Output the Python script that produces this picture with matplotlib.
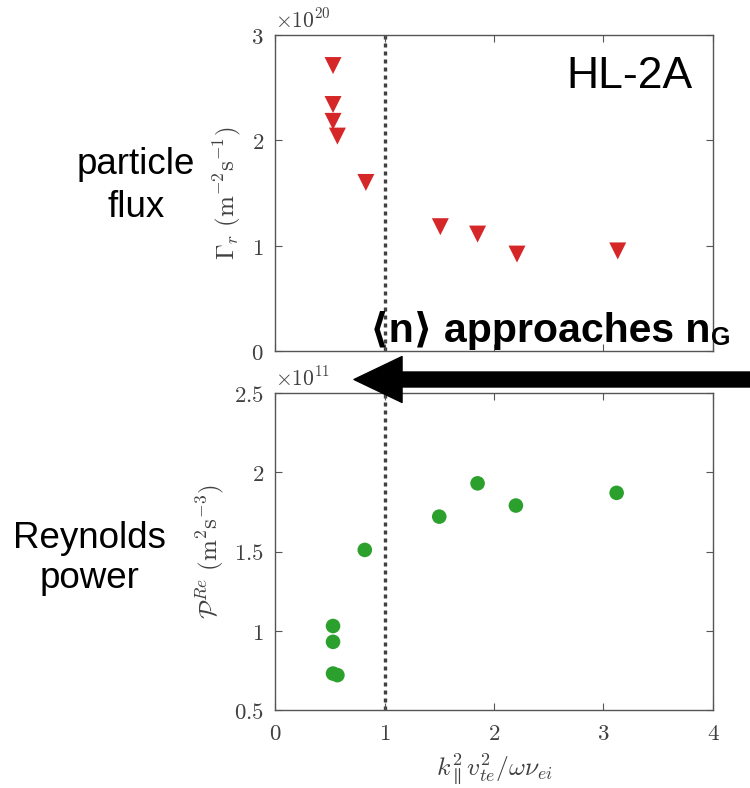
import numpy as np
import matplotlib
matplotlib.use("Agg")
import matplotlib.pyplot as plt
from matplotlib.patches import FancyArrowPatch

plt.rcParams['mathtext.fontset'] = 'cm'

# ---- data ----
x_param = [0.53, 0.53, 0.53, 0.57, 0.83, 1.51, 1.85, 2.21, 3.13]
flux = [2.71, 2.34, 2.18, 2.04, 1.60, 1.18, 1.11, 0.92, 0.95]          # x 1e20
x_rey = [0.53, 0.53, 0.53, 0.57, 0.82, 1.50, 1.85, 2.20, 3.12]
reynolds = [1.03, 0.93, 0.73, 0.72, 1.51, 1.72, 1.93, 1.79, 1.87]      # x 1e11
xticks = [0, 1, 2, 3, 4]
flux_ticks = [0, 1, 2, 3]
rey_ticks = [0.5, 1, 1.5, 2, 2.5]
x_threshold = 1.0

W, H = 750, 788
fig = plt.figure(figsize=(W / 100, H / 100), dpi=100)

def fx(px):
    return px / W

def fy(py):
    return 1 - py / H

ax1 = fig.add_axes([fx(275), fy(351), 438 / W, 316 / H])
ax2 = fig.add_axes([fx(275), fy(710), 438 / W, 317 / H])

gray = '#404040'
for ax in (ax1, ax2):
    for s in ax.spines.values():
        s.set_color('#555555')
        s.set_linewidth(1.0)
    ax.tick_params(direction='in', top=True, right=True, length=5,
                   color='#555555', labelcolor=gray, labelsize=16.5)
    ax.tick_params(axis='y', pad=8)
    ax.tick_params(axis='x', pad=9)
    ax.set_xlim(0, 4)
    ax.set_xticks(xticks)
    ax.axvline(x_threshold, color='#404040', lw=2.4,
               linestyle=(0, (1.2, 1.2)), zorder=1)

ax1.scatter(x_param, flux, marker='v', s=150, color='#d62728',
            edgecolors='none', zorder=3)
ax1.set_ylim(0, 3)
ax1.set_yticks(flux_ticks)
ax1.set_yticklabels([f'${t}$' for t in flux_ticks])
ax1.set_xticklabels([])
ax1.set_ylabel(r'$\Gamma_r\ (\mathrm{m}^{-2}\mathrm{s}^{-1})$', fontsize=18,
               color=gray, labelpad=6)
ax1.text(0.0, 1.012, r'$\times10^{20}$', transform=ax1.transAxes,
         fontsize=15.5, color=gray, ha='left', va='bottom')

ax2.scatter(x_rey, reynolds, marker='o', s=110, color='#2ca02c',
            edgecolors='none', zorder=3)
ax2.set_ylim(0.5, 2.5)
ax2.set_yticks(rey_ticks)
ax2.set_yticklabels([f'${t:g}$' for t in rey_ticks])
ax2.set_xticklabels([f'${t}$' for t in xticks])
ax2.set_ylabel(r'$\mathcal{P}^{Re}\ (\mathrm{m}^{2}\mathrm{s}^{-3})$',
               fontsize=18, color=gray, labelpad=6)
ax2.set_xlabel(r'$k_\parallel^2 v_{te}^2/\omega\nu_{ei}$', fontsize=18.5,
               color=gray, labelpad=4)
ax2.text(0.0, 1.012, r'$\times10^{11}$', transform=ax2.transAxes,
         fontsize=15.5, color=gray, ha='left', va='bottom')

sans = ['Liberation Sans', 'DejaVu Sans']
fig.text(fx(692), fy(88), 'HL-2A', fontsize=32, family=sans,
         ha='right', va='baseline')
fig.text(fx(136), fy(174), 'particle', fontsize=26.5, family=sans,
         ha='center', va='baseline')
fig.text(fx(136), fy(217), 'flux', fontsize=26.5, family=sans,
         ha='center', va='baseline')
fig.text(fx(90), fy(548), 'Reynolds', fontsize=26.5, family=sans,
         ha='center', va='baseline')
fig.text(fx(90), fy(588), 'power', fontsize=26.5, family=sans,
         ha='center', va='baseline')

t_main = fig.text(fx(370), fy(342), '\u27e8n\u27e9 approaches n', fontsize=29.5,
                  family=sans, weight='bold', ha='left', va='baseline')
fig.canvas.draw()
bb = t_main.get_window_extent()
fig.text(bb.x1 / W + 0.001, fy(345), 'G', fontsize=18, family=sans,
         weight='bold', ha='left', va='baseline')

arrow = FancyArrowPatch((1.0, fy(379.5)), (fx(354), fy(379.5)),
                        transform=fig.transFigure,
                        arrowstyle='simple,head_length=34.6,head_width=33.1,tail_width=10.8',
                        mutation_scale=1, color='black', shrinkA=0, shrinkB=0,
                        zorder=10)
fig.add_artist(arrow)

fig.savefig('out.png', dpi=100)
